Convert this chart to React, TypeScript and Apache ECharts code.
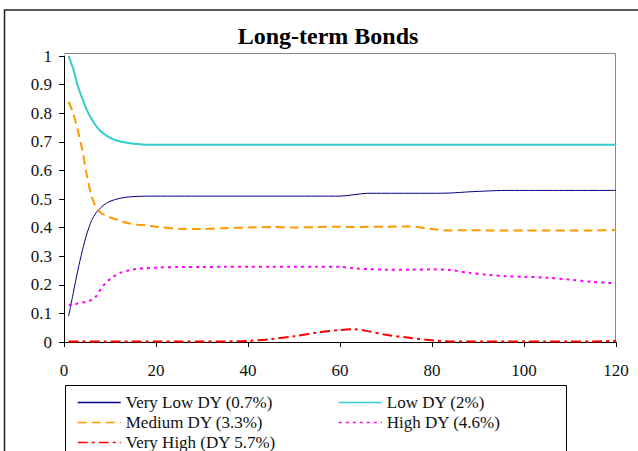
import React, { useEffect, useRef } from "react";
import * as echarts from "echarts";

const titleText = "Long-term Bonds";
const months = [1, 2, 3, 4, 5, 6, 7, 8, 9, 10, 12, 14, 16, 18, 20, 25, 30, 35, 40, 45, 50, 55, 60, 63, 66, 70, 75, 80, 84, 88, 92, 96, 100, 105, 110, 115, 120];
const veryLow = [0.09, 0.17, 0.25, 0.32, 0.38, 0.425, 0.452, 0.47, 0.483, 0.492, 0.502, 0.507, 0.509, 0.51, 0.51, 0.51, 0.51, 0.51, 0.51, 0.51, 0.51, 0.51, 0.51, 0.515, 0.52, 0.52, 0.52, 0.52, 0.521, 0.525, 0.528, 0.53, 0.53, 0.53, 0.53, 0.53, 0.53];
const low = [1.0, 0.955, 0.895, 0.85, 0.81, 0.78, 0.755, 0.737, 0.724, 0.714, 0.702, 0.696, 0.692, 0.69, 0.69, 0.69, 0.69, 0.69, 0.69, 0.69, 0.69, 0.69, 0.69, 0.69, 0.69, 0.69, 0.69, 0.69, 0.69, 0.69, 0.69, 0.69, 0.69, 0.69, 0.69, 0.69, 0.69];
const medium = [0.84, 0.8, 0.74, 0.67, 0.58, 0.51, 0.47, 0.452, 0.443, 0.436, 0.425, 0.415, 0.41, 0.408, 0.403, 0.396, 0.395, 0.398, 0.4, 0.402, 0.4, 0.402, 0.403, 0.402, 0.403, 0.403, 0.404, 0.395, 0.39, 0.391, 0.39, 0.39, 0.39, 0.39, 0.39, 0.39, 0.392];
const high = [0.13, 0.13, 0.135, 0.138, 0.14, 0.148, 0.16, 0.185, 0.205, 0.22, 0.24, 0.25, 0.256, 0.258, 0.26, 0.262, 0.262, 0.263, 0.263, 0.263, 0.263, 0.263, 0.263, 0.258, 0.255, 0.253, 0.253, 0.254, 0.252, 0.242, 0.235, 0.23, 0.228, 0.225, 0.218, 0.21, 0.205];
const veryHigh = [0.002, 0.002, 0.002, 0.002, 0.002, 0.002, 0.002, 0.002, 0.002, 0.002, 0.002, 0.002, 0.002, 0.002, 0.002, 0.002, 0.002, 0.002, 0.004, 0.01, 0.02, 0.033, 0.042, 0.045, 0.038, 0.025, 0.015, 0.006, 0.002, 0.002, 0.002, 0.002, 0.002, 0.002, 0.002, 0.002, 0.004];

const seriesNames = ["Very Low DY (0.7%)", "Low DY (2%)", "Medium DY (3.3%)", "High DY (4.6%)", "Very High (DY 5.7%)"];

const FONT = "'Liberation Serif', 'DejaVu Serif', serif";

export default function App() {
  const ref = useRef<HTMLDivElement>(null);
  useEffect(() => {
    if (!ref.current) return;
    const chart = echarts.init(ref.current, undefined, { renderer: "svg" });
    const pair = (vals: number[]) => months.map((m, i) => [m, vals[i]]);
    const mk = (name: string, vals: number[], color: string, width: number, type: any) => ({
      name,
      type: "line",
      data: pair(vals),
      symbol: "none",
      smooth: 0.3,
      lineStyle: { color, width, type },
      itemStyle: { color },
    });
    const legendCommon = {
      orient: "vertical",
      top: 394,
      height: 120,
      padding: 0,
      itemWidth: 43,
      itemHeight: 17,
      itemGap: 3,
      itemStyle: { opacity: 0 },
      lineStyle: { width: 1.5 },
      textStyle: { fontFamily: FONT, fontSize: 17, color: "#111", lineHeight: 17 },
    };
    chart.setOption({
      animation: false,
      backgroundColor: "#ffffff",
      title: {
        text: titleText,
        left: 323,
        textAlign: "center",
        top: 19,
        textStyle: { fontFamily: FONT, fontWeight: "bold", fontSize: 24, color: "#000" },
      },
      grid: { left: 64, top: 56, right: 22, bottom: 109 },
      xAxis: {
        type: "value",
        min: 0,
        max: 120,
        interval: 20,
        axisLine: { lineStyle: { color: "#000", width: 1 } },
        axisTick: { inside: false, length: 5, lineStyle: { color: "#000" } },
        splitLine: { show: false },
        axisLabel: { fontFamily: FONT, fontSize: 17, color: "#111", margin: 20 },
      },
      yAxis: {
        type: "value",
        min: 0,
        max: 1,
        interval: 0.1,
        axisLine: { show: true, lineStyle: { color: "#000", width: 1 } },
        axisTick: { show: true, inside: false, length: 5, lineStyle: { color: "#000" } },
        splitLine: { show: false },
        axisLabel: {
          fontFamily: FONT,
          fontSize: 17,
          color: "#111",
          margin: 12,
          formatter: (v: number) => String(+v.toFixed(1)),
        },
      },
      legend: [
        { ...legendCommon, data: [seriesNames[0], seriesNames[2], seriesNames[4]], left: 77 },
        { ...legendCommon, data: [seriesNames[1], seriesNames[3]], left: 338 },
      ],
      graphic: [
        {
          type: "rect",
          shape: { x: 4.5, y: 10, width: 700, height: 500 },
          style: { fill: "none", stroke: "#222", lineWidth: 1.5 },
          silent: true,
        },
        {
          type: "polyline",
          shape: { points: [[64, 53.5], [615.5, 53.5], [615.5, 342]] },
          style: { fill: "none", stroke: "#888", lineWidth: 1 },
          silent: true,
        },
        {
          type: "rect",
          shape: { x: 65.5, y: 385.5, width: 501, height: 100 },
          style: { fill: "none", stroke: "#000", lineWidth: 1 },
          silent: true,
        },
      ],
      series: [
        mk(seriesNames[0], veryLow, "#000080", 1, "solid"),
        mk(seriesNames[1], low, "#33CCCC", 2, "solid"),
        mk(seriesNames[2], medium, "#FF9900", 2, [9, 5]),
        mk(seriesNames[3], high, "#FF00FF", 2, [3, 4]),
        mk(seriesNames[4], veryHigh, "#FF0000", 2, [10, 4, 3, 4]),
      ],
    });
    return () => chart.dispose();
  }, []);
  return <div ref={ref} style={{ position: "fixed", left: 0, top: 0, width: 638, height: 451 }} />;
}
